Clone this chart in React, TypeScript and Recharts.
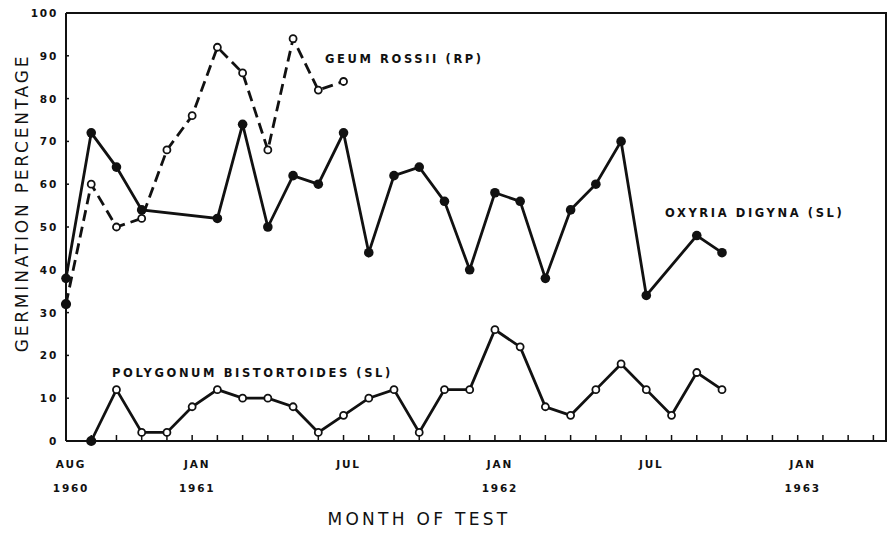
import React from "react";
import { LineChart, Line, XAxis, YAxis } from "recharts";

// months counted from Aug 1960 (= 0)
const OXYRIA_MONTHS = [0, 1, 2, 3, 6, 7, 8, 9, 10, 11, 12, 13, 14, 15, 16, 17, 18, 19, 20, 21, 22, 23, 25, 26];
const OXYRIA_VALUES = [38, 72, 64, 54, 52, 74, 50, 62, 60, 72, 44, 62, 64, 56, 40, 58, 56, 38, 54, 60, 70, 34, 48, 44];

const GEUM_MONTHS = [0, 1, 2, 3, 4, 5, 6, 7, 8, 9, 10, 11];
const GEUM_VALUES = [32, 60, 50, 52, 68, 76, 92, 86, 68, 94, 82, 84];

const POLY_MONTHS = [1, 2, 3, 4, 5, 6, 7, 8, 9, 10, 11, 12, 13, 14, 15, 16, 17, 18, 19, 20, 21, 22, 23, 24, 25, 26];
const POLY_VALUES = [0, 12, 2, 2, 8, 12, 10, 10, 8, 2, 6, 10, 12, 2, 12, 12, 26, 22, 8, 6, 12, 18, 12, 6, 16, 12];

const MONTH_TICKS = Array.from({ length: 33 }, (_, i) => i);
const X_LABEL_MONTHS = [0, 5, 11, 17, 23, 29];
const X_LABEL_NAMES = ["AUG", "JAN", "JUL", "JAN", "JUL", "JAN"];
const X_LABEL_YEARS = ["1960", "1961", "", "1962", "", "1963"];
const Y_TICKS = [0, 10, 20, 30, 40, 50, 60, 70, 80, 90, 100];
const X_MAX = 32.5;
const Y_MAX = 100;

const FONT = "'DejaVu Sans', sans-serif";
const INK = "#111";

const toRows = (months: number[], values: number[]) =>
  months.map((m, i) => ({ month: m, value: values[i] }));

const oxyria = toRows(OXYRIA_MONTHS, OXYRIA_VALUES);
const geum = toRows(GEUM_MONTHS, GEUM_VALUES);
const poly = toRows(POLY_MONTHS, POLY_VALUES);

const tickText = { fontFamily: FONT, fontWeight: "bold" as const, fontSize: 10.5, letterSpacing: 1.8, fill: INK };

const XTick = (props: any) => {
  const { x, y, payload } = props;
  const idx = X_LABEL_MONTHS.indexOf(payload.value);
  return (
    <g>
      <line x1={x} x2={x} y1={y} y2={y - 6} stroke={INK} strokeWidth={1.5} />
      {idx >= 0 && (
        <text x={x + 5} y={y + 27} textAnchor="middle" {...tickText}>
          {X_LABEL_NAMES[idx]}
        </text>
      )}
      {idx >= 0 && X_LABEL_YEARS[idx] && (
        <text x={x + 5} y={y + 51} textAnchor="middle" {...tickText}>
          {X_LABEL_YEARS[idx]}
        </text>
      )}
    </g>
  );
};

const YTick = (props: any) => {
  const { x, y, payload } = props;
  return (
    <g>
      <line x1={x} x2={x + 3} y1={y} y2={y} stroke={INK} strokeWidth={1.5} />
      <text x={x - 8} y={y + 4} textAnchor="end" {...tickText}>
        {payload.value}
      </text>
    </g>
  );
};

const openDot = (props: any) => {
  const { cx, cy, index } = props;
  return (
    <circle key={index} cx={cx} cy={cy} r={index === 0 ? 4.2 : 3.5}
      fill={index === 0 ? INK : "#fff"} stroke={INK} strokeWidth={1.8} />
  );
};

const filledDot = (props: any) => {
  const { cx, cy, index } = props;
  return <circle key={index} cx={cx} cy={cy} r={4.8} fill={INK} stroke="none" />;
};

const seriesLabel = { fontFamily: FONT, fontWeight: "bold" as const, fontSize: 11.5, letterSpacing: 2.6, fill: INK };

export default function App() {
  return (
    <div style={{ position: "absolute", left: 0, top: 0, width: 888, height: 533, background: "#fff" }}>
      <LineChart width={888} height={533} margin={{ top: 13, right: 2, bottom: 0, left: 0 }}>
        <XAxis
          dataKey="month"
          type="number"
          domain={[0, X_MAX]}
          ticks={MONTH_TICKS}
          height={92}
          tickSize={0}
          tickMargin={0}
          tickLine={false}
          axisLine={{ stroke: INK, strokeWidth: 2 }}
          tick={<XTick />}
        />
        <YAxis
          type="number"
          domain={[0, Y_MAX]}
          ticks={Y_TICKS}
          width={66}
          tickSize={0}
          tickMargin={0}
          tickLine={false}
          axisLine={{ stroke: INK, strokeWidth: 2 }}
          tick={<YTick />}
        />
        <Line data={geum} dataKey="value" stroke={INK} strokeWidth={2.8} strokeDasharray="11 6" dot={openDot} isAnimationActive={false} />
        <Line data={oxyria} dataKey="value" stroke={INK} strokeWidth={2.8} dot={filledDot} isAnimationActive={false} />
        <Line data={poly} dataKey="value" stroke={INK} strokeWidth={2.8} dot={openDot} isAnimationActive={false} />
        <text x={325} y={63} {...seriesLabel}>GEUM ROSSII (RP)</text>
        <text x={665} y={217} {...seriesLabel}>OXYRIA DIGYNA (SL)</text>
        <text x={112} y={377} {...seriesLabel}>POLYGONUM BISTORTOIDES (SL)</text>
        <text x={419} y={525} textAnchor="middle" fontFamily={FONT} fontSize={17} letterSpacing={3.3} fill={INK}>MONTH OF TEST</text>
        <text x={0} y={0} transform="translate(28,203) rotate(-90)" textAnchor="middle" fontFamily={FONT} fontSize={17} letterSpacing={2.8} fill={INK}>GERMINATION PERCENTAGE</text>
      </LineChart>
      {/* top and right edges of the plot box */}
      <div
        style={{
          position: "absolute",
          left: 66,
          top: 12,
          width: 821,
          height: 430,
          boxSizing: "border-box",
          borderTop: `2px solid ${INK}`,
          borderRight: `2px solid ${INK}`,
          pointerEvents: "none",
        }}
      />
    </div>
  );
}
